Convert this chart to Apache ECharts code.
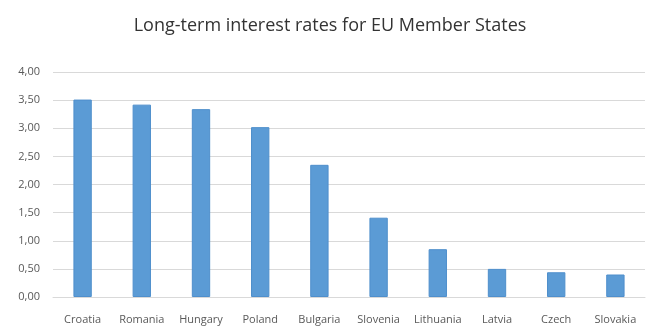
<!DOCTYPE html>
<html><head><meta charset="utf-8">
<script src="https://cdn.jsdelivr.net/npm/echarts@6/dist/echarts.min.js"></script>
<style>html,body{margin:0;padding:0;background:#fff}#c{width:660px;height:330px}</style>
</head><body><div id="c"></div>
<script>
const titleText = "Long-term interest rates for EU Member States";
const categories = ["Croatia","Romania","Hungary","Poland","Bulgaria","Slovenia","Lithuania","Latvia","Czech","Slovakia"];
const rates = [3.51, 3.42, 3.34, 3.02, 2.35, 1.41, 0.85, 0.50, 0.44, 0.40];
const yTicks = [0, 0.5, 1, 1.5, 2, 2.5, 3, 3.5, 4];

const chart = echarts.init(document.getElementById('c'));
chart.setOption({
  animation: false,
  title: {
    text: titleText, left: 'center', top: 12,
    textStyle: {fontFamily: 'Open Sans', fontSize: 18, fontWeight: 'normal', color: '#333333'}
  },
  grid: {left: 53, right: 15, top: 72, bottom: 33},
  xAxis: {
    type: 'category', data: categories,
    axisLine: {lineStyle: {color: '#d9d9d9'}},
    axisTick: {show: false},
    axisLabel: {color: '#595959', fontFamily: 'Open Sans', fontSize: 11, margin: 17, interval: 0}
  },
  yAxis: {
    type: 'value', min: yTicks[0], max: yTicks[yTicks.length-1], interval: 0.5,
    axisLine: {show: false}, axisTick: {show: false},
    splitLine: {lineStyle: {color: '#d9d9d9', width: 1}},
    axisLabel: {color: '#595959', fontFamily: 'Open Sans', fontSize: 11, margin: 13,
      formatter: v => v.toFixed(2).replace('.', ',')}
  },
  series: [{
    type: 'bar', data: rates, barWidth: '31%',
    itemStyle: {color: '#5b9bd5', borderColor: '#4f8fcc', borderWidth: 1}
  }]
});
</script></body></html>
